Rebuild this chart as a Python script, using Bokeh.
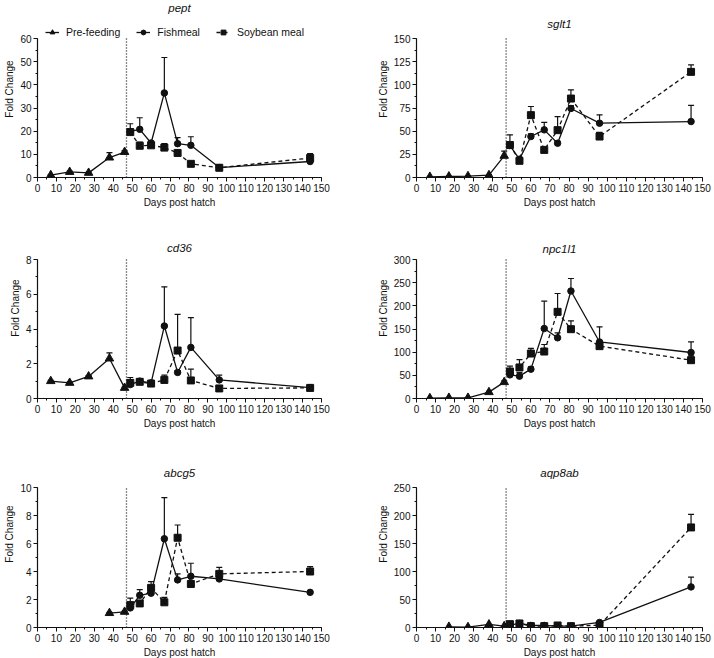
import math
from bokeh.plotting import figure
from bokeh.models import (Range1d, FixedTicker, Whisker, TeeHead, Label,
                          ColumnDataSource, Legend, LegendItem)
from bokeh.layouts import column, row
from bokeh.embed import file_html
from bokeh.resources import INLINE

nan = float("nan")

# ---------------- data ----------------
pre_days = [7, 17, 27, 38, 46]
diet_days = [49, 54, 60, 67, 74, 81, 96, 144]
feeding_start = 47
x_ticks = list(range(0, 151, 10))
x_minor = list(range(0, 151, 5))

genes = ["pept", "sglt1", "cd36", "npc1l1", "abcg5", "aqp8ab"]
y_max = [60, 150, 8, 300, 10, 250]
y_step = [10, 25, 2, 50, 2, 50]

pept_pre = [1.0, 2.4, 2.0, 8.6, 11.0]
pept_pre_err = [0.2, 0.4, 0.3, 2.1, 0.6]
pept_fish = [19.9, 20.8, 14.9, 36.5, 14.6, 13.9, 4.3, 6.9]
pept_fish_err = [3.3, 5.0, 0.8, 15.3, 2.6, 3.7, 0.4, 0.8]
pept_soy = [19.6, 13.7, 13.9, 12.9, 10.6, 5.9, 4.2, 8.4]
pept_soy_err = [0.8, 1.6, 0.6, 1.7, 0.6, 0.5, 0.3, 1.9]

sglt1_pre = [0.7, 1.1, 1.4, 2.5, 23.4]
sglt1_pre_err = [0.2, 0.2, 0.3, 0.5, 5.0]
sglt1_fish = [34.5, 19.8, 44.2, 51.4, 37.0, 74.5, 58.6, 60.4]
sglt1_fish_err = [4.0, 2.0, 3.0, 8.0, 2.0, 3.0, 9.0, 17.5]
sglt1_soy = [35.0, 18.0, 67.3, 29.8, 51.1, 85.2, 44.2, 114.0]
sglt1_soy_err = [11.0, 2.0, 9.3, 1.5, 14.7, 9.3, 4.4, 7.5]

cd36_pre = [1.0, 0.9, 1.27, 2.3, 0.61]
cd36_pre_err = [0.05, 0.05, 0.05, 0.33, 0.05]
cd36_fish = [0.8, 1.0, 0.9, 4.17, 1.5, 2.94, 1.07, 0.63]
cd36_fish_err = [0.1, 0.08, 0.08, 2.26, 0.1, 1.72, 0.27, 0.04]
cd36_soy = [0.9, 0.96, 0.86, 1.07, 2.76, 1.04, 0.58, 0.61]
cd36_soy_err = [0.31, 0.08, 0.06, 0.27, 2.08, 0.65, 0.04, 0.04]

npc1l1_pre = [0.7, 1.4, 1.4, 13.7, 35.3]
npc1l1_pre_err = [0.3, 0.5, 0.5, 1.5, 3.0]
npc1l1_fish = [51.0, 48.2, 63.3, 151.0, 131.0, 232.0, 122.0, 99.3]
npc1l1_fish_err = [5.0, 7.8, 5.0, 59.0, 10.7, 27.0, 32.7, 22.7]
npc1l1_soy = [58.3, 67.0, 97.0, 101.4, 187.0, 149.6, 113.0, 82.7]
npc1l1_soy_err = [11.5, 17.0, 11.0, 15.1, 39.6, 18.0, 5.7, 9.3]

abcg5_pre = [nan, nan, nan, 1.03, 1.12]
abcg5_pre_err = [0, 0, 0, 0.05, 0.05]
abcg5_fish = [1.4, 2.3, 2.45, 6.34, 3.40, 3.66, 3.47, 2.51]
abcg5_fish_err = [0.15, 0.4, 0.1, 2.94, 0.43, 0.93, 0.1, 0.05]
abcg5_soy = [1.6, 1.72, 2.83, 1.8, 6.41, 3.11, 3.83, 4.0]
abcg5_soy_err = [0.5, 0.1, 0.45, 0.35, 0.91, 0.1, 0.47, 0.35]

aqp8ab_pre = [nan, 1.2, 0.6, 5.4, 2.4]
aqp8ab_pre_err = [0, 0, 0, 0, 0]
aqp8ab_fish = [4.2, 7.2, 3.6, 3.6, 2.4, 2.4, 9.0, 72.5]
aqp8ab_fish_err = [0, 1.0, 0, 0, 0, 0, 0, 17.5]
aqp8ab_soy = [6.0, 7.2, 2.4, 2.4, 3.6, 2.4, 4.0, 178.7]
aqp8ab_soy_err = [0, 0, 0, 0, 0, 0, 6.0, 23.3]

series = {
    "pept": (pept_pre, pept_pre_err, pept_fish, pept_fish_err, pept_soy, pept_soy_err),
    "sglt1": (sglt1_pre, sglt1_pre_err, sglt1_fish, sglt1_fish_err, sglt1_soy, sglt1_soy_err),
    "cd36": (cd36_pre, cd36_pre_err, cd36_fish, cd36_fish_err, cd36_soy, cd36_soy_err),
    "npc1l1": (npc1l1_pre, npc1l1_pre_err, npc1l1_fish, npc1l1_fish_err, npc1l1_soy, npc1l1_soy_err),
    "abcg5": (abcg5_pre, abcg5_pre_err, abcg5_fish, abcg5_fish_err, abcg5_soy, abcg5_soy_err),
    "aqp8ab": (aqp8ab_pre, aqp8ab_pre_err, aqp8ab_fish, aqp8ab_fish_err, aqp8ab_soy, aqp8ab_soy_err),
}

FONT = "Liberation Sans"
INK = "#111111"

# ---------------- layout (screen px) ----------------
# per row: frame top, y-axis top (value y_max), x-axis (value 0), bottom border
ROW_TOP = [0, 217, 440]
ROW_AXTOP = [38, 259, 487]
ROW_AXBOT = [177, 398, 627]
ROW_BB = [40, 42, 30]
# title centre line per panel (screen y)
TITLE_Y = [7, 23, 247, 248, 472, 472]
FW_L, FW_R = 284, 286


def add_errors(p, days, vals, errs):
    xs, lo, hi = [], [], []
    for d, v, e in zip(days, vals, errs):
        if v is None or (isinstance(v, float) and math.isnan(v)) or e <= 0:
            continue
        xs.append(d)
        lo.append(v)
        hi.append(v + e)
    if not xs:
        return
    src = ColumnDataSource(dict(x=xs, lower=lo, upper=hi))
    w = Whisker(base="x", lower="lower", upper="upper", source=src,
                dimension="height", line_color=INK, line_width=1.2,
                lower_head=None,
                upper_head=TeeHead(size=6, line_color=INK, line_width=1.2))
    p.add_layout(w)


def make_panel(idx, r, fw, bl, br, legend=False):
    gene = genes[idx]
    ymax = y_max[idx]
    step = y_step[idx]
    pre, pre_err, fish, fish_err, soy, soy_err = series[gene]

    top, axtop, axbot = ROW_TOP[r], ROW_AXTOP[r], ROW_AXBOT[r]
    fh = axbot - top
    upp = ymax / (axbot - axtop)          # data units per pixel
    y_end = ymax + (axtop - top) * upp

    p = figure(frame_width=fw, frame_height=fh, title=None,
               x_range=Range1d(0, 150), y_range=Range1d(0, y_end),
               output_backend="svg", toolbar_location=None,
               min_border_left=bl, min_border_right=br,
               min_border_top=0, min_border_bottom=ROW_BB[r])
    p.outline_line_color = None
    p.grid.visible = False
    p.background_fill_color = "white"
    p.border_fill_color = "white"

    p.xaxis.ticker = FixedTicker(ticks=x_ticks, minor_ticks=x_minor)
    yt = [i * step for i in range(int(round(ymax / step)) + 1)]
    ym = [i * step / 2 for i in range(int(round(2 * ymax / step)) + 1)]
    p.yaxis.ticker = FixedTicker(ticks=yt, minor_ticks=ym)
    p.yaxis.bounds = (0, ymax)
    p.xaxis.axis_label = "Days post hatch"
    p.yaxis.axis_label = "Fold Change"
    for ax in (p.xaxis, p.yaxis):
        ax.axis_line_color = INK
        ax.axis_line_width = 1.2
        ax.major_tick_line_color = INK
        ax.minor_tick_line_color = INK
        ax.major_tick_out = 4
        ax.major_tick_in = 0
        ax.minor_tick_out = 2
        ax.minor_tick_in = 0
        ax.major_label_text_font = FONT
        ax.major_label_text_font_size = "10px"
        ax.major_label_text_color = INK
        ax.major_label_standoff = 2
        ax.axis_label_text_font = FONT
        ax.axis_label_text_font_size = "10px"
        ax.axis_label_text_font_style = "normal"
        ax.axis_label_text_color = INK
        ax.axis_label_standoff = 2

    # start of feeding: dotted vertical line spanning the value axis
    p.segment(x0=[feeding_start], y0=[0], x1=[feeding_start], y1=[ymax],
              line_color=INK, line_width=1.3, line_dash="1 2")

    pl = p.line(pre_days, pre, line_color=INK, line_width=1.3)
    ps = p.scatter(pre_days, pre, marker="triangle", size=8.5,
                   fill_color=INK, line_color=INK)
    fl = p.line(diet_days, fish, line_color=INK, line_width=1.3)
    fs = p.scatter(diet_days, fish, marker="circle", size=6.5,
                   fill_color=INK, line_color=INK)
    sl = p.line(diet_days, soy, line_color=INK, line_width=1.3, line_dash="4 3")
    ss = p.scatter(diet_days, soy, marker="square", size=7,
                   fill_color=INK, line_color=INK)

    add_errors(p, pre_days, pre, pre_err)
    add_errors(p, diet_days, fish, fish_err)
    add_errors(p, diet_days, soy, soy_err)

    if legend:
        lg = Legend(items=[
            LegendItem(label="Pre-feeding", renderers=[pl, ps]),
            LegendItem(label="Fishmeal", renderers=[fl, fs]),
            LegendItem(label="Soybean meal", renderers=[sl, ss]),
        ], orientation="horizontal", location=(8, axbot - axtop),
            label_text_font=FONT, label_text_font_size="10.5px",
            label_text_color=INK, glyph_width=14, glyph_height=12,
            label_standoff=7, spacing=16, padding=0, margin=0,
            border_line_color=None, background_fill_alpha=0)
        p.add_layout(lg, "center")

    ty = ymax + (axtop - TITLE_Y[idx]) * upp
    p.add_layout(Label(x=75, y=ty, text=gene, text_align="center",
                       text_baseline="middle", text_font=FONT,
                       text_font_size="11.5px", text_font_style="italic",
                       text_color=INK))
    return p


rows = []
for r in range(3):
    left = make_panel(2 * r, r, FW_L, 37, 40, legend=(r == 0))
    right = make_panel(2 * r + 1, r, FW_R, 55, 10)
    rows.append(row(left, right))

layout = column(*rows)

open("out.html", "w").write(file_html(layout, INLINE))
